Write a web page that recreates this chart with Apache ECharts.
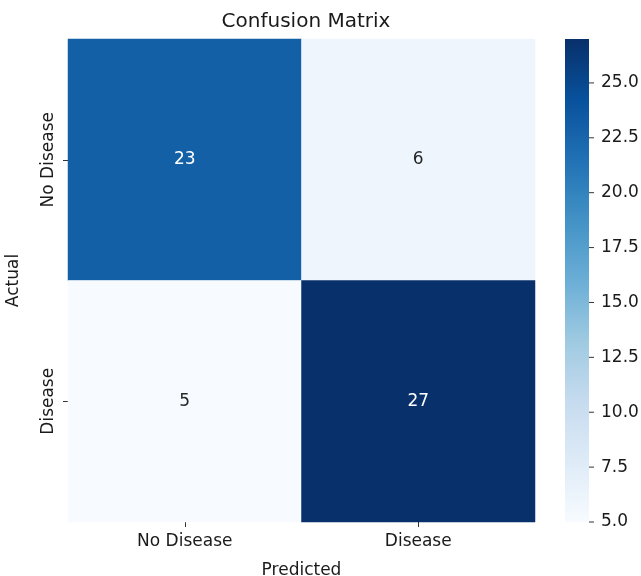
<!DOCTYPE html>
<html>
<head>
<meta charset="utf-8">
<script src="https://cdn.jsdelivr.net/npm/echarts@6/dist/echarts.min.js"></script>
<style>html,body{margin:0;padding:0;background:#fff}#c{width:641px;height:576px}</style>
</head>
<body>
<div id="c"></div>
<script>
const predictedLabels = ['No Disease', 'Disease'];
const actualLabels = ['No Disease', 'Disease'];
// rows = actual, cols = predicted
const row0 = [23, 6];
const row1 = [5, 27];
const colorMin = 5;
const colorMax = 27;
const colorbarStep = 2.5;
const blues = ['#f7fbff','#deebf7','#c6dbef','#9ecae1','#6baed6','#4292c6','#2171b5','#08519c','#08306b'];

const rows = [row0, row1];
const data = [];
rows.forEach((r, yi) => r.forEach((v, xi) => data.push([xi, yi, v])));

const font = 'DejaVu Sans';
const textColor = '#1a1a1a';
const chart = echarts.init(document.getElementById('c'), null, {renderer: 'canvas'});
chart.setOption({
  animation: false,
  backgroundColor: '#fff',
  title: {
    text: 'Confusion Matrix', left: 301, top: 7, textAlign: 'center',
    textStyle: {fontFamily: font, fontSize: 20, fontWeight: 'normal', color: textColor}
  },
  grid: [
    {left: 68, right: 106, top: 39, bottom: 54, containLabel: false, outerBoundsMode: 'none'},
    {left: 565, width: 24, top: 39, height: 483, containLabel: false, outerBoundsMode: 'none'}
  ],
  xAxis: [
    {
      type: 'category', data: predictedLabels, gridIndex: 0,
      name: 'Predicted', nameLocation: 'middle', nameGap: 40,
      nameTextStyle: {fontFamily: font, fontSize: 17, color: textColor},
      axisLine: {show: false}, splitLine: {show: false},
      axisTick: {show: true, alignWithLabel: true, length: 5, lineStyle: {color: '#333'}},
      axisLabel: {fontFamily: font, fontSize: 17, color: textColor, margin: 11}
    },
    {type: 'value', gridIndex: 1, show: false, min: 0, max: 1}
  ],
  yAxis: [
    {
      type: 'category', data: actualLabels, gridIndex: 0, inverse: true,
      name: 'Actual', nameLocation: 'middle', nameGap: 46, nameRotate: 90,
      nameTextStyle: {fontFamily: font, fontSize: 17, color: textColor},
      axisLine: {show: false}, splitLine: {show: false},
      axisTick: {show: true, alignWithLabel: true, length: 5, lineStyle: {color: '#333'}},
      axisLabel: {fontFamily: font, fontSize: 17, color: textColor, rotate: 90, margin: 11}
    },
    {
      type: 'value', gridIndex: 1, position: 'right',
      min: colorMin, max: colorMax, interval: colorbarStep,
      axisLine: {show: false, onZero: false}, splitLine: {show: false},
      axisTick: {show: false},
      axisLabel: {
        fontFamily: font, fontSize: 17, color: textColor, margin: 0, showMaxLabel: false,
        formatter: v => (v > 25 ? '' : '{t| }{s| }' + Number(v).toFixed(1)),
        rich: {
          t: {width: 5, height: 1, lineHeight: 1, backgroundColor: '#333', fontSize: 1, verticalAlign: 'middle'},
          s: {width: 7, fontSize: 1, verticalAlign: 'middle'}
        }
      }
    }
  ],
  visualMap: {
    show: false, type: 'continuous', min: colorMin, max: colorMax, seriesIndex: 0,
    inRange: {color: blues}
  },
  series: [{
    type: 'heatmap', xAxisIndex: 0, yAxisIndex: 0,
    data: data.map(d => ({value: d, label: {color: d[2] > 16 ? '#ffffff' : '#262626'}})),
    label: {
      show: true, fontFamily: font, fontSize: 17,
      formatter: p => String(p.value[2])
    },
    itemStyle: {borderWidth: 0}
  }, {
    // colorbar drawn through grid 2's scales
    type: 'custom', xAxisIndex: 1, yAxisIndex: 1, silent: true, z: 0,
    data: [[0, colorMin, 1, colorMax]],
    renderItem: (params, api) => {
      const p0 = api.coord([api.value(0), api.value(3)]);
      const p1 = api.coord([api.value(2), api.value(1)]);
      return {
        type: 'rect',
        shape: {x: p0[0], y: p0[1], width: p1[0] - p0[0], height: p1[1] - p0[1]},
        style: {
          fill: new echarts.graphic.LinearGradient(0, 1, 0, 0,
            blues.map((c, i) => ({offset: i / (blues.length - 1), color: c})))
        }
      };
    }
  }]
});
</script>
</body>
</html>
